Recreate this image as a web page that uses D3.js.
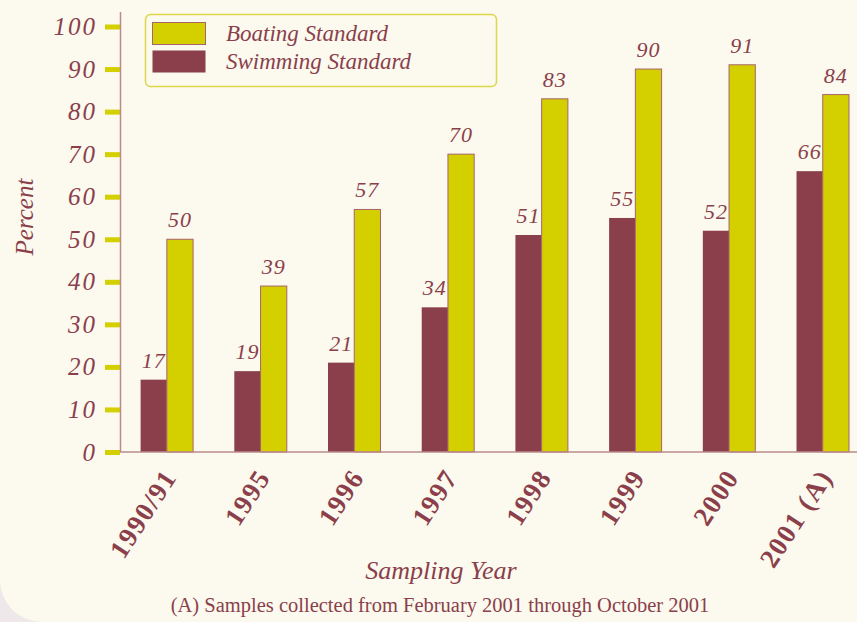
<!DOCTYPE html>
<html>
<head>
<meta charset="utf-8">
<script src="https://cdn.jsdelivr.net/npm/d3@7"></script>
<style>
  html, body { margin: 0; padding: 0; background: #efe8ea; }
  svg { display: block; }
</style>
</head>
<body>
<div id="chart"></div>
<script>
// Data
const years = ['1990/91', '1995', '1996', '1997', '1998', '1999', '2000', '2001 (A)'];
const swimming = [17, 19, 21, 34, 51, 55, 52, 66];
const boating = [50, 39, 57, 70, 83, 90, 91, 84];
const yTicks = [0, 10, 20, 30, 40, 50, 60, 70, 80, 90, 100];
const seriesNames = ['Boating Standard', 'Swimming Standard'];

const width = 857;
const height = 622;

const maroon = '#8a3f4b';
const olive = '#d4d000';
const serif = '"Liberation Serif", "DejaVu Serif", serif';

const svg = d3
  .select('#chart')
  .append('svg')
  .attr('width', width)
  .attr('height', height);

// cream card with rounded corner at bottom left
svg.append('rect')
  .attr('x', 0)
  .attr('y', -60)
  .attr('width', width + 60)
  .attr('height', height + 60)
  .attr('rx', 42)
  .attr('fill', '#fcf9ee');

// scales
const x = d3.scaleBand()
  .domain(years)
  .range([120, 120 + 8 * 93.7])
  .padding(0);

const y = d3.scaleLinear()
  .domain([0, 100])
  .range([452, 26.5]);

const barW = x.bandwidth() * 0.28;
const cx = d => x(d) + x.bandwidth() / 2;

// y axis ticks (yellow dashes)
const yAxis = svg.append('g')
  .attr('transform', 'translate(120,0)')
  .call(d3.axisLeft(y).tickValues(yTicks).tickSize(15).tickPadding(8));

yAxis.select('.domain').remove();
yAxis.selectAll('.tick line')
  .attr('stroke', olive)
  .attr('stroke-width', 5);
yAxis.selectAll('.tick text')
  .attr('fill', maroon)
  .attr('font-family', serif)
  .attr('font-style', 'italic')
  .attr('font-size', '25px')
  .attr('letter-spacing', '2px');

// axis lines
svg.append('line')
  .attr('x1', 120.5).attr('x2', 120.5)
  .attr('y1', 12).attr('y2', 452)
  .attr('stroke', '#bb8b8b')
  .attr('stroke-width', 1.5);

// bars
const groups = svg.selectAll('.grp')
  .data(years)
  .enter()
  .append('g')
  .attr('class', 'grp');

groups.append('rect')
  .attr('x', (d) => cx(d) - barW)
  .attr('width', barW)
  .attr('y', (d, i) => y(swimming[i]))
  .attr('height', (d, i) => y(0) - y(swimming[i]))
  .attr('fill', maroon);

groups.append('rect')
  .attr('x', (d) => cx(d))
  .attr('width', barW)
  .attr('y', (d, i) => y(boating[i]))
  .attr('height', (d, i) => y(0) - y(boating[i]))
  .attr('fill', olive)
  .attr('stroke', '#a8636a')
  .attr('stroke-width', 1);

// value labels
groups.append('text')
  .attr('x', (d) => cx(d) - barW / 2)
  .attr('y', (d, i) => y(swimming[i]) - 12)
  .attr('text-anchor', 'middle')
  .attr('fill', maroon)
  .attr('font-family', serif)
  .attr('font-style', 'italic')
  .attr('font-size', '22px')
  .attr('letter-spacing', '1px')
  .text((d, i) => swimming[i]);

groups.append('text')
  .attr('x', (d) => cx(d) + barW / 2)
  .attr('y', (d, i) => y(boating[i]) - 12)
  .attr('text-anchor', 'middle')
  .attr('fill', maroon)
  .attr('font-family', serif)
  .attr('font-style', 'italic')
  .attr('font-size', '22px')
  .attr('letter-spacing', '1px')
  .text((d, i) => boating[i]);

svg.append('line')
  .attr('x1', 120).attr('x2', width)
  .attr('y1', 452).attr('y2', 452)
  .attr('stroke', '#bb8b8b')
  .attr('stroke-width', 1.5);

// x tick labels
svg.selectAll('.xlab')
  .data(years)
  .enter()
  .append('text')
  .attr('class', 'xlab')
  .attr('transform', d => `translate(${cx(d) + 3},${472}) rotate(-57)`)
  .attr('text-anchor', 'end')
  .attr('dy', '0.35em')
  .attr('fill', maroon)
  .attr('font-family', serif)
  .attr('font-weight', 'bold')
  .attr('font-size', '27px')
  .attr('letter-spacing', '1.5px')
  .text(d => d);

// axis titles
svg.append('text')
  .attr('transform', 'translate(33,217) rotate(-90)')
  .attr('text-anchor', 'middle')
  .attr('fill', maroon)
  .attr('font-family', serif)
  .attr('font-style', 'italic')
  .attr('font-size', '25px')
  .text('Percent');

svg.append('text')
  .attr('x', 441)
  .attr('y', 579)
  .attr('text-anchor', 'middle')
  .attr('fill', maroon)
  .attr('font-family', serif)
  .attr('font-style', 'italic')
  .attr('font-size', '26px')
  .text('Sampling Year');

svg.append('text')
  .attr('x', 440)
  .attr('y', 612)
  .attr('text-anchor', 'middle')
  .attr('fill', maroon)
  .attr('font-family', serif)
  .attr('font-size', '20.5px')
  .text('(A) Samples collected from February 2001 through October 2001');

// legend
const legend = svg.append('g').attr('transform', 'translate(145,14)');
legend.append('rect')
  .attr('x', 0.5).attr('y', 0.5)
  .attr('width', 351).attr('height', 72)
  .attr('rx', 5)
  .attr('fill', '#fcf9ee')
  .attr('stroke', '#ddd84a')
  .attr('stroke-width', 1.5);

const legColors = [olive, maroon];
seriesNames.forEach((name, i) => {
  legend.append('rect')
    .attr('x', 7.5)
    .attr('y', 8.5 + i * 28)
    .attr('width', 53)
    .attr('height', 22)
    .attr('fill', legColors[i])
    .attr('stroke', i === 0 ? '#a8636a' : 'none');
  legend.append('text')
    .attr('x', 81)
    .attr('y', 27 + i * 28)
    .attr('fill', maroon)
    .attr('font-family', serif)
    .attr('font-style', 'italic')
    .attr('font-size', '23px')
    .text(name);
});
</script>
</body>
</html>
